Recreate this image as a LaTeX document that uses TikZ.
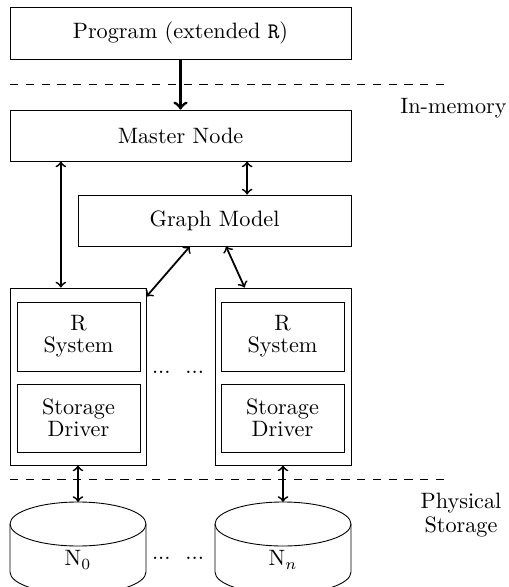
\documentclass[tikz,border=0pt]{standalone}
\usetikzlibrary{calc}
\begin{document}
\begin{tikzpicture}[x=0.45pt,y=-0.45pt,
  box/.style={draw,inner sep=0pt,align=center,line width=0.4pt},
  conn/.style={<->,>=to,thick},
  sep/.style={line width=0.4pt,dash pattern=on 3.7pt off 3.4pt},
  lbl/.style={align=center,inner sep=0pt}]
\useasboundingbox (0,0) rectangle (509,587);
% boxes
\node[box,minimum width=341*0.45pt,minimum height=52*0.45pt] (prog) at (180.5,33) {Program (extended \texttt{R})};
\node[box,minimum width=341*0.45pt,minimum height=51*0.45pt] (mn) at (180.5,135.5) {Master Node};
\node[box,minimum width=273*0.45pt,minimum height=51*0.45pt] (gm) at (214.5,220.5) {Graph Model};
\node[box,minimum width=136*0.45pt,minimum height=177*0.45pt] (lo) at (78,376.5) {};
\node[box,minimum width=136*0.45pt,minimum height=177*0.45pt] (ro) at (283,376.5) {};
\node[box,minimum width=123*0.45pt,minimum height=69*0.45pt] (lr) at (78.5,336.5) {R\\[-2pt]System};
\node[box,minimum width=123*0.45pt,minimum height=68*0.45pt] (ls) at (78.5,418) {Storage\\[-2pt]Driver};
\node[box,minimum width=123*0.45pt,minimum height=69*0.45pt] (rr) at (282.5,336.5) {R\\[-2pt]System};
\node[box,minimum width=123*0.45pt,minimum height=68*0.45pt] (rs) at (282.5,418) {Storage\\[-2pt]Driver};
\node[lbl] (dots1) at (178,372) {...\ \ ...};
% separators
\coordinate (s1a) at (10,84); \coordinate (s1b) at (448,84);
\coordinate (s2a) at (10,479); \coordinate (s2b) at (448,479);
\draw[sep] (s1a) -- (s1b);
\draw[sep] (s2a) -- (s2b);
\node[lbl,anchor=east] (inmem) at (507,108) {In-memory};
\node[lbl] (phys) at (461,515) {Physical\\[-1pt]Storage};
% cylinders
\foreach \cx/\nm in {78/c0,283/cn}{
  \draw[line width=0.4pt] (\cx,524) ellipse [x radius=68*0.45pt, y radius=22*0.45pt];
  \draw[line width=0.4pt] (\cx-68,524) -- (\cx-68,572) arc[start angle=180,end angle=360,x radius=68*0.45pt,y radius=22*0.45pt] -- (\cx+68,524);
  \coordinate (\nm) at (\cx,502);
}
\node[lbl] (n0) at (78,560) {N$_0$};
\node[lbl] (nn) at (283,560) {N$_n$};
\node[lbl] (dots2) at (178,558) {...\ \ ...};
% connectors
\draw[->,>=to,line width=1.3pt] (prog.south) -- (mn.north);
\coordinate (a1) at ($(lo.north west)!0.375!(lo.north east)$);
\draw[conn] (a1 |- mn.south) -- (a1);
\coordinate (a2) at ($(gm.north west)!0.619!(gm.north east)$);
\draw[conn] (a2 |- mn.south) -- (a2);
\draw[conn] ($(gm.south west)!0.41!(gm.south east)$) -- ($(lo.north east)+(0,9)$);
\draw[conn] ($(gm.south west)!0.542!(gm.south east)$) -- ($(ro.north west)!0.22!(ro.north east)$);
\draw[conn] (lo.south) -- (c0);
\draw[conn] (ro.south) -- (cn);
\end{tikzpicture}
\end{document}
